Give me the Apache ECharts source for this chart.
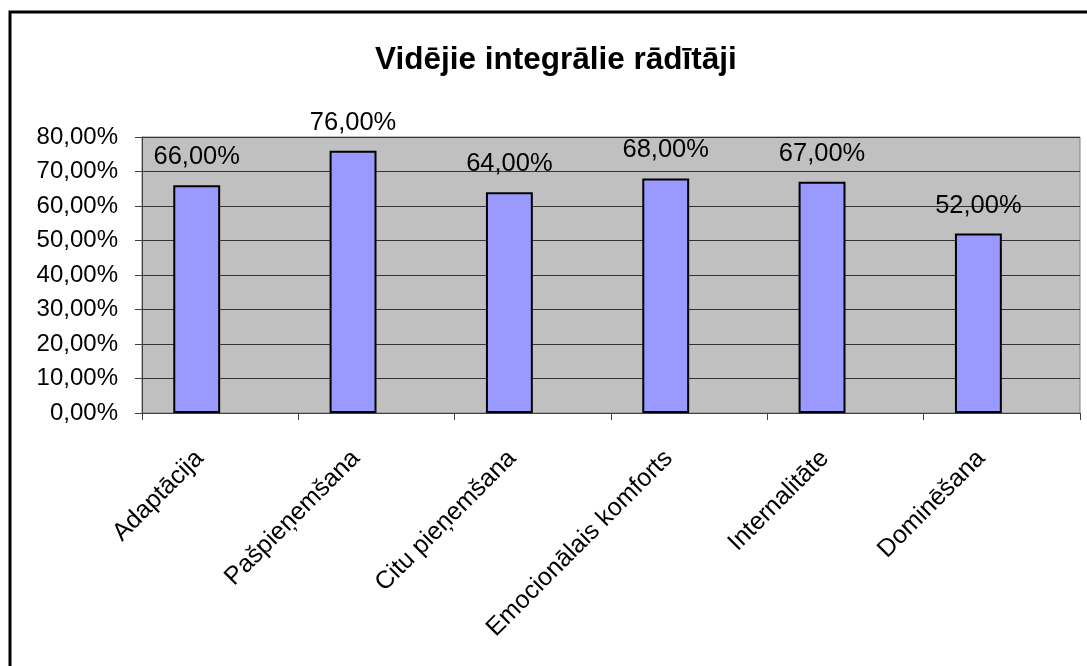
<!DOCTYPE html>
<html>
<head>
<meta charset="utf-8">
<script src="https://cdn.jsdelivr.net/npm/echarts@6/dist/echarts.min.js"></script>
<style>html,body{margin:0;padding:0;background:#fff}#c{width:1087px;height:666px}</style>
</head>
<body>
<div id="c"></div>
<script>
const categories = ['Adaptācija', 'Pašpieņemšana', 'Citu pieņemšana', 'Emocionālais komforts', 'Internalitāte', 'Dominēšana'];
const values = [66, 76, 64, 68, 67, 52];
const titleText = 'Vidējie integrālie rādītāji';

function pct(v) { return v.toFixed(2).replace('.', ',') + '%'; }

const chart = echarts.init(document.getElementById('c'), null, {renderer: 'canvas'});
chart.setOption({
  animation: false,
  backgroundColor: '#fff',
  title: {
    text: titleText, left: 370, top: 39,
    textStyle: {fontFamily: 'Liberation Sans', fontWeight: 'bold', fontSize: 31.5, color: '#000'}
  },
  graphic: [{
    type: 'rect', shape: {x: 10, y: 12, width: 1200, height: 800},
    style: {fill: 'none', stroke: '#000', lineWidth: 3}, silent: true
  }],
  grid: {left: 142, top: 137, right: 7, bottom: 253, show: true, backgroundColor: '#C0C0C0', borderColor: '#808080', borderWidth: 1},
  xAxis: {
    type: 'category', data: categories,
    axisLine: {lineStyle: {color: '#404040', width: 1}},
    axisTick: {show: true, length: 7, lineStyle: {color: '#404040'}},
    axisLabel: {rotate: 45, margin: 21, padding: [0, 29, 0, 0], fontFamily: 'Liberation Sans', fontSize: 25, color: '#000', interval: 0}
  },
  yAxis: {
    type: 'value', min: 0, max: 80, interval: 10,
    axisLine: {show: true, lineStyle: {color: '#404040', width: 1}},
    axisTick: {show: true, length: 7, lineStyle: {color: '#404040'}},
    splitLine: {lineStyle: {color: '#333', width: 1}},
    axisLabel: {margin: 24, fontFamily: 'Liberation Sans', fontSize: 24, color: '#000', formatter: v => pct(v)}
  },
  series: [{
    type: 'bar', data: values, barWidth: '30%', barGap: '0%',
    itemStyle: {color: '#9999FF', borderColor: '#000', borderWidth: 2},
    label: {show: true, position: 'top', distance: 15, fontFamily: 'Liberation Sans', fontSize: 25.5, color: '#000', formatter: p => pct(p.value)}
  }, {
    type: 'bar', data: [], barWidth: '30%', barGap: '0%', silent: true
  }]
});
</script>
</body>
</html>
